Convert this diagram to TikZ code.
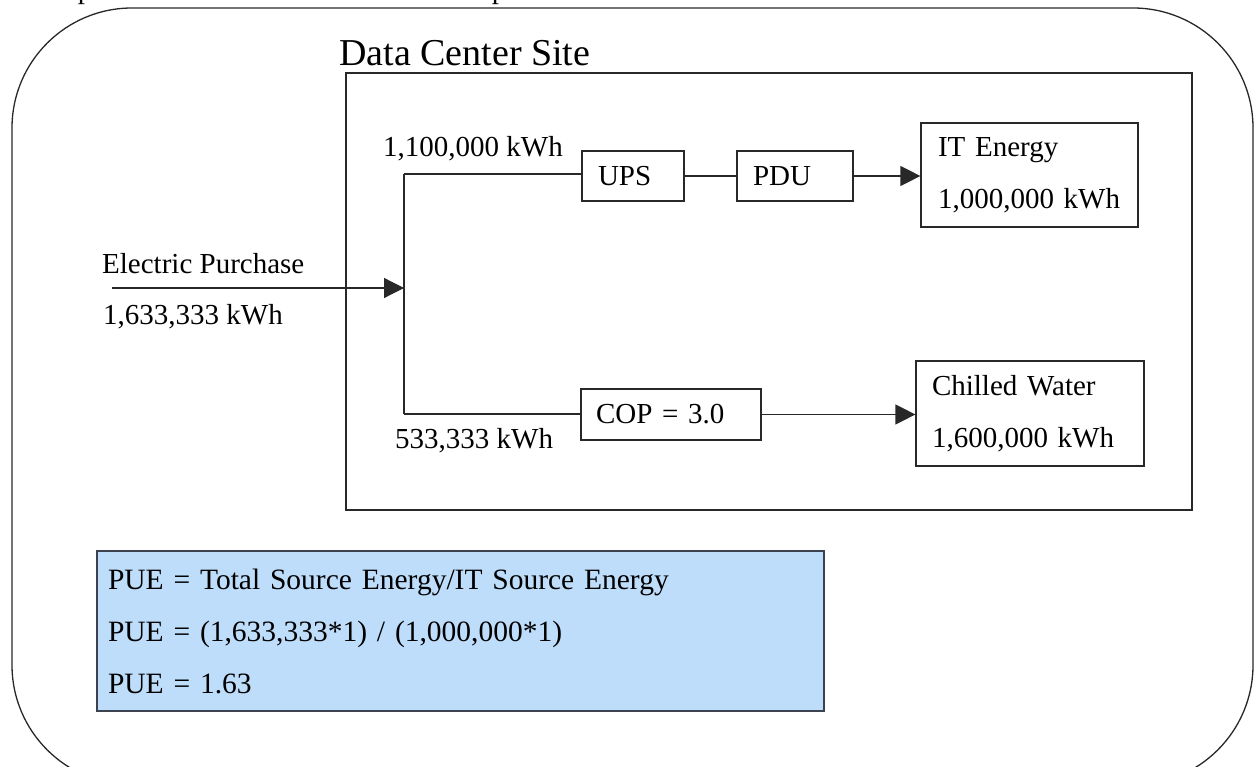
\documentclass[tikz,border=0pt]{standalone}
\usepackage{fontspec}
\setmainfont{Liberation Serif}
\usetikzlibrary{arrows.meta}
\definecolor{pueblue}{RGB}{190,221,251}
\definecolor{pueedge}{RGB}{60,66,80}
\definecolor{edge}{RGB}{40,40,40}
\begin{document}
\begin{tikzpicture}[x=1pt,y=-1pt,
  lbl/.style={inner sep=0pt, font=\fontsize{29}{34}\selectfont},
  box/.style={draw=edge, line width=1.2pt, inner ysep=0pt, align=left, font=\fontsize{29}{52}\selectfont},
  conn/.style={draw=edge, line width=1.2pt},
  arr/.style={conn, -{Triangle[length=20pt,width=20pt]}}]
\useasboundingbox (0,0) rectangle (1259,767);
\clip (0,0) rectangle (1259,767);
% outer rounded frame
\draw[edge, line width=1.3pt, rounded corners=120pt] (12,8) rectangle (1253,785);
% clipped caption
\node[lbl, anchor=base west] (cap) at (10,-1) {Example of a data center with an electric purchase};
% site
\node[draw=edge, line width=1.2pt, minimum width=846pt, minimum height=437pt, inner sep=0pt] (site) at (769,291.5) {};
\node[lbl, font=\fontsize{38}{42}\selectfont, anchor=base west] (sitelbl) at (339,66) {Data Center Site};
% labels
\node[lbl, anchor=base west] (eplbl) at (102,274) {Electric Purchase};
\node[lbl, anchor=base west] (epval) at (103,325) {1,633,333 kWh};
\node[lbl, anchor=base west] (toplbl) at (383,157) {1,100,000 kWh};
\node[lbl, anchor=base west] (botlbl) at (395,448) {533,333 kWh};
% junctions
\coordinate (ein) at (112,288);
\coordinate (split) at (404,288);
\coordinate (top) at (404,174);
\coordinate (bot) at (404,414);
% boxes
\node[box, inner xsep=16pt, text width=70pt, minimum height=50pt] (ups) at (633,176) {UPS};
\node[box, inner xsep=16pt, text width=84pt, minimum height=50pt] (pdu) at (795,176) {PDU};
\node[box, inner xsep=17pt, text width=183pt, minimum height=104pt] (it) at (1029.5,175) {IT Energy\\1,000,000 kWh};
\node[box, inner xsep=15pt, text width=150pt, minimum height=51pt] (cop) at (671,414.5) {COP = 3.0};
\node[box, inner xsep=16pt, text width=196pt, minimum height=105pt] (cw) at (1030,413.5) {Chilled Water\\1,600,000 kWh};
% connectors
\draw[arr] (ein) -- (split);
\draw[conn] (top) -- (bot);
\draw[conn] (top) -- (top -| ups.west);
\draw[conn] (ups.east) -- (pdu.west);
\draw[arr] (pdu.east) -- (pdu.east -| it.west);
\draw[conn] (bot) -- (bot -| cop.west);
\draw[arr] (cop.east) -- (cop.east -| cw.west);
% PUE box
\node[draw=pueedge, fill=pueblue, line width=1.5pt, minimum width=727pt, minimum height=160pt, text width=705pt, inner xsep=11pt, inner ysep=0pt, align=left, font=\fontsize{29.5}{52}\selectfont] (pue) at (460.5,631) {PUE = Total Source Energy/IT Source Energy\\PUE = (1,633,333*1) / (1,000,000*1)\\PUE = 1.63};
\end{tikzpicture}
\end{document}
